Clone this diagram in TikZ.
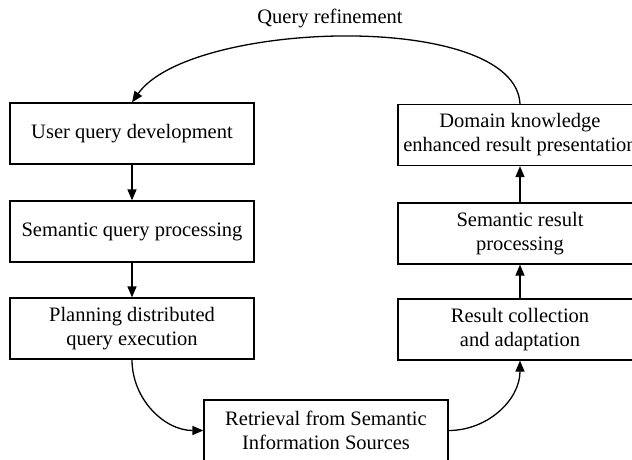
\documentclass[tikz,border=0pt]{standalone}
\usepackage{fontspec}
\setmainfont{Liberation Serif}
\usetikzlibrary{arrows.meta}
\begin{document}
\begin{tikzpicture}[x=1pt,y=-1pt,
  stepbox/.style={draw=black,line width=1.3pt,minimum width=244pt,minimum height=61pt,
    inner sep=0pt,align=center,font=\fontsize{20.5}{24}\selectfont},
  flow/.style={line width=1.3pt,-{Triangle[length=11pt,width=9pt]}},
  lbl/.style={font=\fontsize{20.5}{24}\selectfont,inner sep=0pt}]
\useasboundingbox (0,0) rectangle (632,459);
\clip (0,0) rectangle (632,459);
\node[stepbox] (u) at (132,133.5) {User query development};
\node[stepbox] (s) at (132,231.5) {Semantic query processing};
\node[stepbox] (p) at (132,328.5) {Planning distributed\\query execution};
\node[stepbox] (r) at (326,430.5) {Retrieval from Semantic\\Information Sources};
\node[stepbox] (rc) at (520,329.5) {Result collection\\and adaptation};
\node[stepbox] (sr) at (520,233.5) {Semantic result\\processing};
\node[stepbox] (d) at (520,135) {Domain knowledge\\enhanced result presentation};
\node[lbl] (q) at (330,18) {Query refinement};
\draw[flow] (u) -- (s);
\draw[flow] (s) -- (p);
\draw[flow] (p.south) to[out=-90,in=180] (r.west);
\draw[flow] (r.east) to[out=0,in=-90] (rc.south);
\draw[flow] (rc) -- (sr);
\draw[flow] (sr) -- (d);
\draw[flow] (d.north) .. controls (515,10) and (190,20) .. (u.north);
\end{tikzpicture}
\end{document}
